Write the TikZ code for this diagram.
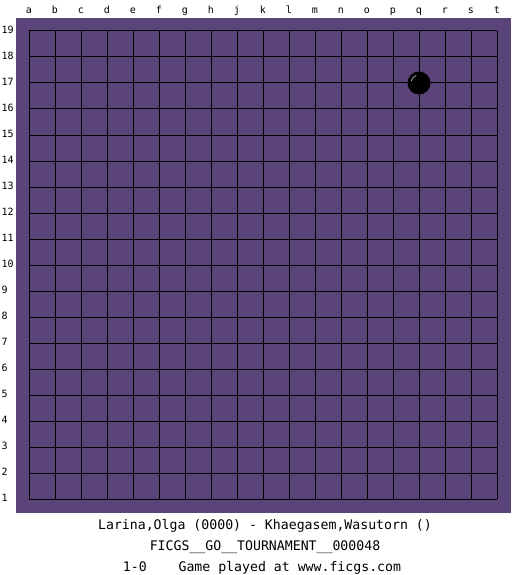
\documentclass[tikz,border=0pt]{standalone}
\usepackage{fontspec}
\setmonofont{DejaVu Sans Mono}
\definecolor{boardpurple}{RGB}{91,68,121}
\begin{document}
\begin{tikzpicture}[x=1pt,y=-1pt,
  board/.style={fill=boardpurple},
  gridline/.style={draw=black,line width=1pt},
  coordlabel/.style={font=\ttfamily\fontsize{10}{12}\selectfont,inner sep=0pt},
  infotext/.style={font=\ttfamily\fontsize{13.2}{15}\selectfont,inner sep=0pt,anchor=base},
  stone/.style={circle,fill=black,minimum size=23pt,inner sep=0pt}]
\useasboundingbox (0,0) rectangle (525,575);
\fill[white] (0,0) rectangle (525,575);
\fill[board] (16,18) rectangle (511,513);
\foreach \i in {0,...,18} {
  \draw[gridline] ({29+26*\i},31) -- ({29+26*\i},499);
  \draw[gridline] (29,{31+26*\i}) -- (497,{31+26*\i});
}
\foreach \l [count=\i from 0] in {a,b,c,d,e,f,g,h,j,k,l,m,n,o,p,q,r,s,t}
  \node[coordlabel,anchor=base] (col\l) at ({29+26*\i},14) {\l};
\foreach \r in {1,...,19}
  \node[coordlabel,anchor=base west] (row\r) at (1.5,{31+26*(19-\r)+2.5}) {\r};
\node[stone] (q17) at (419,83) {};
\draw[gray!70,line width=0.8pt] ([shift={(110:8pt)}]q17.center) arc[start angle=110,end angle=165,radius=8pt];
\node[infotext] (players) at (265,529) {Larina,Olga (0000) - Khaegasem,Wasutorn ()};
\node[infotext] (event) at (265,550.5) {FICGS\_\_GO\_\_TOURNAMENT\_\_000048};
\node[infotext] (result) at (262,571) {1-0\ \ \ \ Game played at www.ficgs.com};
\end{tikzpicture}
\end{document}
